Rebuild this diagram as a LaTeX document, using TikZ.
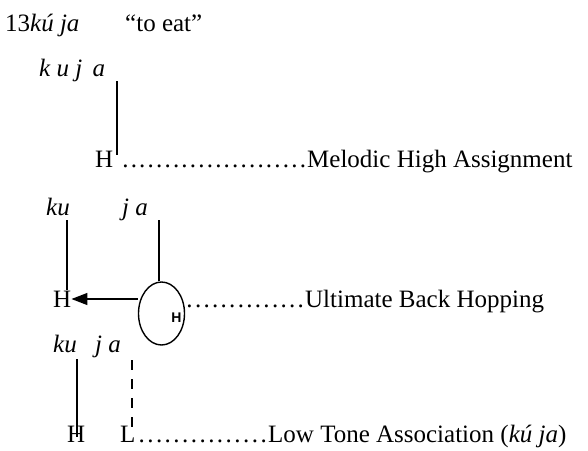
\documentclass[tikz,border=0pt]{standalone}
\usepackage{fontspec}
\setmainfont{Liberation Serif}
\setsansfont{Liberation Sans}
\usetikzlibrary{arrows.meta,shapes.geometric}
\newcommand{\myleader}[1]{\makebox[#1]{\xleaders\hbox to 8.33pt{\hss.\hss}\hfill}}
\begin{document}
\begin{tikzpicture}[x=1pt,y=-1pt,
  txt/.style={inner sep=0pt,anchor=base west,font=\fontsize{25}{30}\selectfont},
  assoc/.style={line width=1.5pt},
  dashassoc/.style={line width=1.5pt,dash pattern=on 10pt off 9pt},
  hop/.style={line width=1.4pt}]
\useasboundingbox (0,0) rectangle (588,450);
% title
\node[txt] (title) at (5,31) {13\textit{kú ja}};
\node[txt] (gloss) at (125,31) {“to eat”};
% step 1
\node[txt] (seg1) at (39,76) {\textit{k u j\, a}};
\node[txt] (H1) at (95,167) {H};
\node[txt] (lab1) at (121,167) {\myleader{186pt}Melodic High Assignment};
\coordinate (a1top) at (117,81);
\coordinate (a1bot) at (117,155);
\draw[assoc] (a1top) -- (a1bot);
% step 2
\node[txt] (ku2) at (46,215) {\textit{ku}};
\node[txt] (ja2) at (122,215) {\textit{j a}};
\node[txt] (H2) at (53,307) {H};
\node[draw,hop,ellipse,minimum width=46pt,minimum height=63pt,inner sep=0pt] (circ) at (161.5,313.5) {};
\node[inner sep=0pt,font=\sffamily\bfseries\fontsize{14}{15}\selectfont] (h2) at (176.5,317.5) {H};
\node[txt] (lab2) at (185,307) {\myleader{120pt}Ultimate Back Hopping};
\coordinate (ku2top) at (67,220);
\coordinate (ku2bot) at (67,290);
\coordinate (ja2top) at (159,220);
\draw[assoc] (ku2top) -- (ku2bot);
\draw[assoc] (ja2top) -- (ja2top |- circ.north);
\draw[hop,-{Triangle[length=16pt,width=12pt]}] (circ.west |- 0,299) -- (H2.east |- 0,299);
% step 3
\node[txt] (ku3) at (53,352) {\textit{ku}};
\node[txt] (ja3) at (95,352) {\textit{j a}};
\node[txt] (H3) at (67,442) {H};
\node[txt] (L3) at (120,442) {L};
\node[txt] (lab3) at (137,442) {\myleader{131pt}Low Tone Association (\textit{kú ja})};
\coordinate (ku3top) at (77,359);
\coordinate (ku3bot) at (77,437);
\coordinate (ja3top) at (132,360);
\coordinate (ja3bot) at (132,436);
\draw[assoc] (ku3top) -- (ku3bot);
\draw[dashassoc] (ja3top) -- (ja3bot);
\end{tikzpicture}
\end{document}
